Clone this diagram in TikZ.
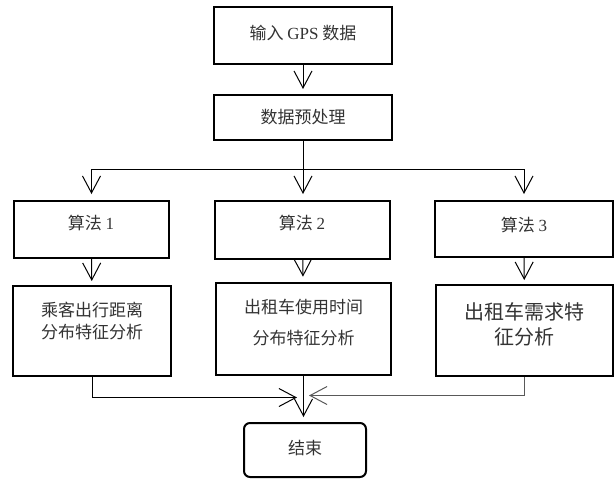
\documentclass[tikz,border=0pt]{standalone}
\usepackage{fontspec}
\setmainfont{Liberation Serif}
\newfontfamily\cjk{Noto Sans CJK SC}
\usetikzlibrary{arrows.meta}

\begin{document}
\begin{tikzpicture}[x=0.75pt,y=-0.75pt,
		box/.style={draw,line width=1.5pt,inner sep=0pt},
		txt/.style={font=\cjk\fontsize{12.75pt}{16.5pt}\selectfont,text=black!80,align=center,inner sep=0pt},
		arr/.style={line width=0.75pt,-{Straight Barb[length=12.75pt,width=13.5pt]}}]
			\useasboundingbox (0,0) rectangle (614,479);
			
			\node[box,minimum width=133.5pt,minimum height=42.75pt] (gps) at (303,35.5) {};
			\node[txt] (tgps) at (303,33) {输入 {\rmfamily GPS} 数据};
			
			\node[box,minimum width=133.5pt,minimum height=33.75pt] (pre) at (303,117.5) {};
			\node[txt] (tpre) at (303,117) {数据预处理};
			
			\node[box,minimum width=116.25pt,minimum height=42.75pt] (alg1) at (91.5,229.5) {};
			\node[txt] (talg1) at (91,223) {算法 {\rmfamily 1}};
			
			\node[box,minimum width=131.25pt,minimum height=43.5pt] (alg2) at (302.5,230) {};
			\node[txt] (talg2) at (302,223) {算法 {\rmfamily 2}};
			
			\node[box,minimum width=133.5pt,minimum height=42pt] (alg3) at (524,229) {};
			\node[txt] (talg3) at (524,225) {算法 {\rmfamily 3}};
			
			\node[box,minimum width=118.5pt,minimum height=67.5pt] (res1) at (92,331) {};
			\node[txt] (tres1) at (92,321) {乘客出行距离\\分布特征分析};
			
			\node[box,minimum width=131.25pt,minimum height=69pt] (res2) at (303.5,329) {};
			\node[txt,font=\cjk\fontsize{12.75pt}{23.25pt}\selectfont] (tres2) at (303.5,322.5) {出租车使用时间\\分布特征分析};
			
			\node[box,minimum width=132.75pt,minimum height=68.25pt] (res3) at (524.5,330.5) {};
			\node[txt,font=\cjk\fontsize{15pt}{18.75pt}\selectfont] (tres3) at (524.5,324.5) {出租车需求特\\征分析};
			
			\node[box,rounded corners=4.5pt,minimum width=91.5pt,minimum height=40.5pt] (end) at (305,450) {};
			\node[txt] (tend) at (305,448) {结束};
			
			\coordinate (fork) at (303,169);
			\coordinate (inL) at (297,397.5);
			\coordinate (inR) at (309,395.5);
			
			\draw[arr,shorten >=3.75pt] (gps) -- (pre);
			
			\draw[line width=0.75pt] (pre.south) -- (fork);
			
			\draw[arr,shorten >=4.5pt] (fork) -- (fork |- alg2.north);
			
			\draw[arr,shorten >=4.5pt] (fork) -| (alg1.north);
			
			\draw[arr,shorten >=4.5pt] (fork) -| (alg3.north);
			
			\draw[arr,shorten >=3pt] (alg1) -- (res1);
			
			\draw[arr,shorten >=4pt] (alg2) -- (res2);
			
			\draw[arr,shorten >=3pt] (alg3) -- (res3);
			
			\draw[arr] (res1.south) |- (inL);
			
			\draw[arr,draw=black!65] (res3.south) |- (inR);
			
			\draw[arr,shorten >=3.75pt] (res2.south) -- (res2.south |- end.north);
	
		\end{tikzpicture}
\end{document}
